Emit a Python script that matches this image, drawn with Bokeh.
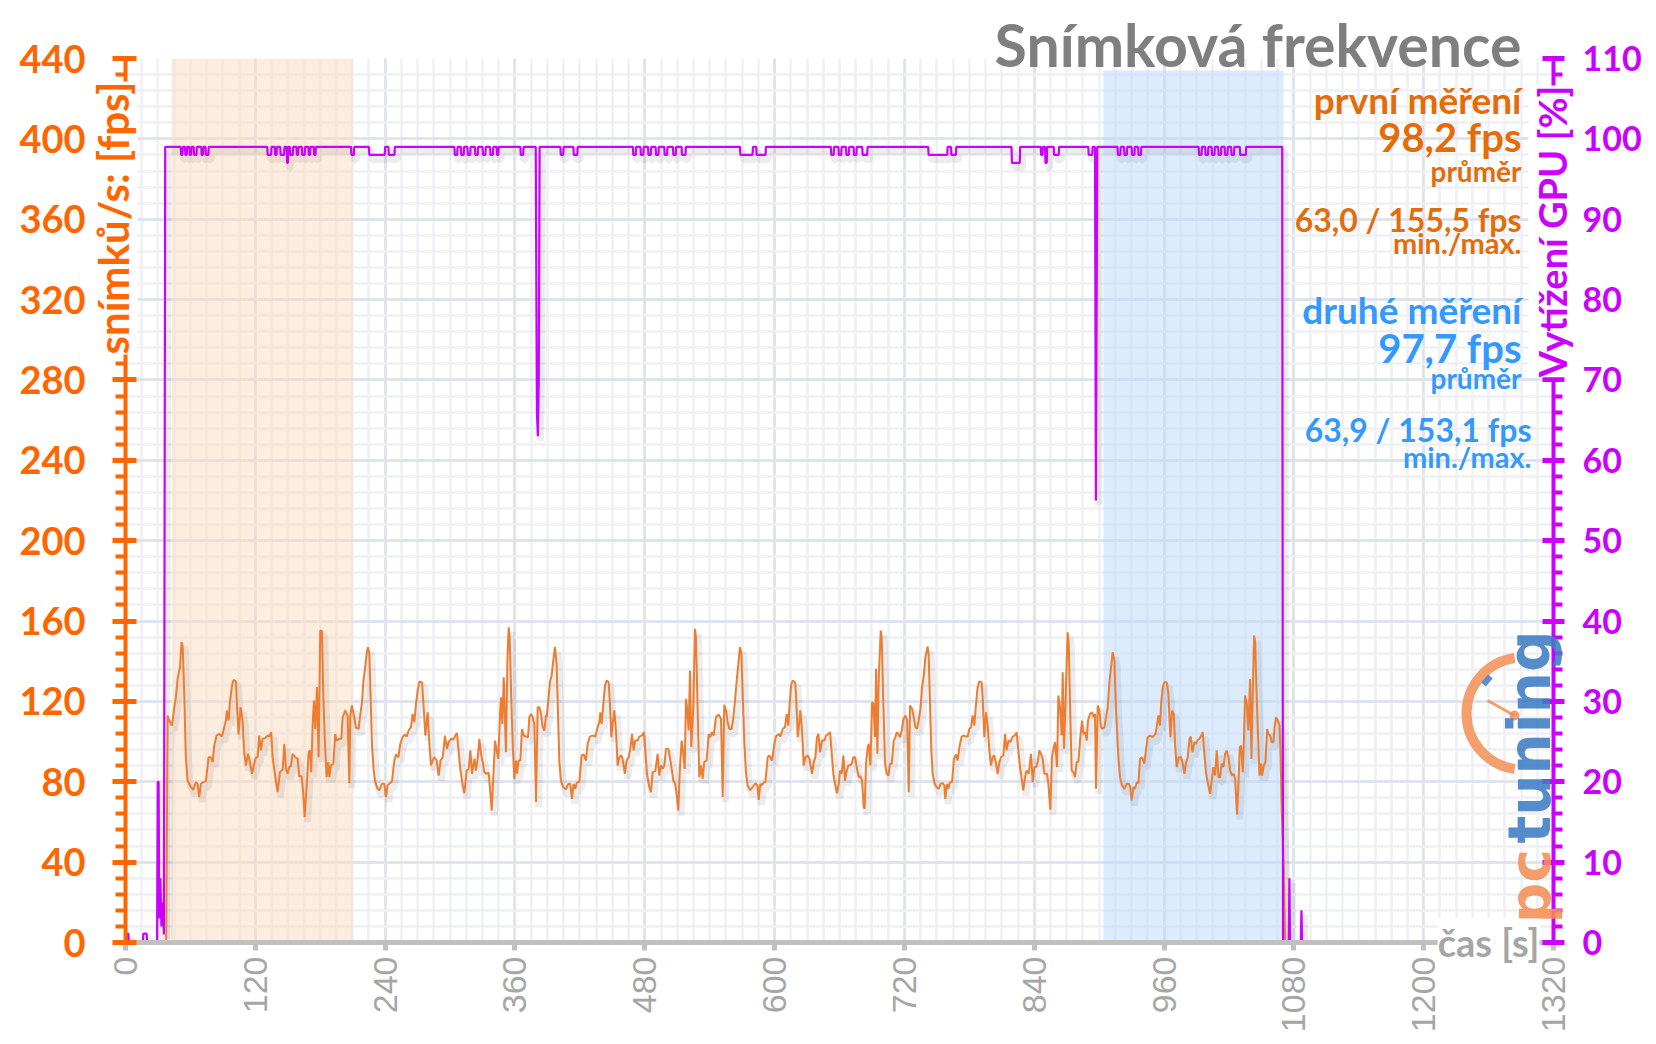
import math
import numpy as np
from bokeh.plotting import figure
from bokeh.models import LinearAxis, Range1d, SingleIntervalTicker, Label, GridBox, Column
from bokeh.embed import file_html
from bokeh.resources import INLINE

# ---------------- data ----------------
fps_seg1 = [(0, 0), (37.6, 0), (38.9, 113), (40.4, 110.5), (42.9, 108), (45.1, 117), (46.6, 122), (48.1, 131),
            (50.3, 137), (51.8, 149.5), (52.8, 147.8), (54.3, 123.7), (55.8, 92.2), (57.4, 80.6), (60.5, 77.3),
            (62.6, 76), (65.1, 79.8), (66.6, 79), (68.2, 72.4), (69.7, 79), (71.9, 79.8), (74.3, 80.3),
            (76.8, 92.2), (78.9, 92.2), (80.5, 89.8), (82.0, 98), (84.2, 103), (86.7, 103.8), (89.1, 102.5),
            (91.3, 107.2), (92.8, 110.5), (93.7, 115.5), (95.3, 110.5), (96.5, 119.6), (98.4, 127.9),
            (99.9, 130.7), (102.1, 130), (103.3, 115.5), (104.5, 103.5), (106.4, 117.1), (108.2, 110.5),
            (109.8, 93.9), (111.3, 88.1), (113.2, 93.9), (115.0, 89.8), (116.9, 84), (119.0, 89), (120.6, 92.2),
            (122.1, 92.2), (123.6, 103), (125.2, 95.6), (126.7, 101.4), (129.2, 101.7), (131.3, 103),
            (132.9, 102.5), (134.7, 104.7), (136.0, 92.2), (138.1, 84), (140.6, 74.8), (142.8, 84.8),
            (145.2, 86), (146.8, 98.9), (148.3, 86.4), (149.8, 84), (151.4, 87.3), (152.9, 87.8), (154.5, 93.9),
            (156.9, 92.2), (159.1, 91.4), (160.6, 82.8), (162.8, 82.8), (164.3, 74), (165.6, 62.4), (167.4, 77.3),
            (169.3, 94.7), (170.5, 95.6), (171.7, 84.8), (173.0, 108.8), (174.2, 120.4), (175.4, 106.3),
            (177.0, 127.1), (178.5, 92.2), (180.0, 155.3), (181.6, 155), (182.8, 123.7), (184.4, 98.9),
            (185.9, 82.3), (187.4, 89.8), (188.4, 82.3), (189.9, 88.1), (192.1, 89), (193.9, 103.8),
            (195.1, 100.5), (197.6, 101.4), (199.5, 101.4), (200.7, 112.1), (203.2, 115.5), (205.3, 113),
            (206.9, 79.3), (207.8, 113), (209.3, 118), (211.5, 112), (213.0, 107)]
fps_seg2 = [(215.5, 106.3), (217.1, 113.8), (218.6, 119.6), (219.8, 129.5), (221.7, 137.8), (222.9, 143.7),
            (224.1, 147), (225.4, 143.7), (226.3, 127.1), (227.8, 98.9), (229.4, 85.6), (230.9, 79.8),
            (233.1, 76.5), (234.6, 75.7), (237.1, 79), (239.2, 79), (240.8, 72.4), (242.3, 78.2), (243.9, 79),
            (246.3, 80.2), (248.5, 90.6), (250.0, 93.6), (252.2, 92.2), (254.0, 98.9), (256.2, 102.2),
            (258.0, 103.5), (259.9, 102.5), (261.7, 105.5), (263.9, 107.2), (265.4, 113.8), (267.0, 109.7),
            (268.5, 118.8), (270.1, 125.4), (271.6, 130), (274.1, 129.5), (275.6, 117.1), (277.2, 103),
            (279.3, 114.6), (280.9, 98.9), (282.4, 88.1), (283.9, 90.6), (285.5, 92.2), (287.6, 90.6),
            (289.5, 83.1), (291.3, 90.6), (293.2, 92.2), (295.3, 103), (297.2, 96.4), (298.7, 99.7),
            (300.9, 101.4), (303.0, 100.9), (304.9, 103), (306.4, 104.2), (308.0, 94.7), (309.5, 86.4),
            (311.7, 78.2), (313.2, 74.3), (315.4, 85.6), (317.2, 86.4), (318.8, 95.6), (320.3, 84),
            (322.5, 91.4), (324.0, 85.6), (325.5, 91.4), (327.1, 101.4), (328.6, 93.9), (330.2, 89.8),
            (331.7, 84.8), (333.2, 84), (335.7, 84.5), (337.0, 76.5), (338.5, 65.7), (340.0, 82.3),
            (341.6, 100.5), (343.1, 95.6), (344.6, 91.4), (346.2, 113.8), (347.1, 122.1), (348.3, 108.8),
            (349.6, 132), (350.8, 110.5), (351.7, 94.7), (353.0, 140.3), (354.2, 156.9), (355.1, 152),
            (356.4, 125.4), (357.9, 98.9), (359.4, 81.5), (361.0, 90.6), (361.9, 84), (363.4, 90.6),
            (365.0, 90.6), (366.5, 106.3), (368.1, 103), (370.2, 102.5), (372.1, 102.2), (373.3, 112.1),
            (374.9, 113.8), (376.4, 112.1), (377.9, 108.8), (379.5, 69.9), (381.0, 117.1), (382.6, 117.1),
            (384.1, 113.8), (385.6, 107.2), (387.2, 105.5), (388.7, 113)]
fps_seg3 = [(389.3, 112.1), (390.8, 120.4), (392.3, 129.5), (393.9, 132.9), (395.4, 140.3), (397.0, 147),
            (398.5, 138.7), (399.7, 115.5), (401.0, 90.6), (402.5, 80.6), (404.7, 77.3), (407.1, 76.2),
            (409.3, 79), (411.1, 79), (412.7, 71.5), (414.2, 79), (415.8, 76.5), (417.3, 79.8), (419.5, 79.8),
            (421.6, 93.1), (423.5, 93.6), (425.6, 90.6), (427.2, 98.9), (429.3, 102.5), (431.8, 103),
            (434.3, 102.5), (436.4, 107.2), (438.0, 109.7), (438.9, 114.6), (440.1, 108.8), (441.7, 118.8),
            (443.2, 127.9), (444.7, 130.4), (446.6, 129.5), (447.8, 118.8), (449.1, 102.2), (450.3, 108.8),
            (451.8, 115.5), (453.4, 105.5), (454.9, 88.1), (456.5, 92.2), (458.3, 93.1), (459.5, 91.4),
            (461.7, 84), (463.2, 90.6), (465.1, 92.2), (466.6, 96.4), (468.2, 103.8), (469.7, 95.6),
            (471.2, 100.5), (473.4, 100.5), (474.9, 102.5), (477.4, 103), (479.3, 104.7), (480.5, 95.6),
            (482.0, 84), (484.2, 77.3), (485.7, 74.8), (487.3, 84.8), (489.7, 85.3), (491.9, 93.9),
            (493.4, 83.1), (495.0, 88.1), (496.5, 86.4), (498.1, 88.1), (499.6, 96.4), (501.8, 96.4),
            (504.2, 89), (506.4, 80.6), (508.2, 79), (509.8, 72.4), (511.0, 65.7), (512.5, 87.3),
            (514.1, 100.5), (515.3, 95.6), (516.9, 86.4), (518.1, 121.3), (519.3, 115.5), (520.6, 105.5),
            (521.8, 135.4), (523.0, 97.2), (524.9, 117.1), (526.4, 156.1), (527.3, 152), (528.9, 115.5),
            (530.4, 82.3), (532.0, 88.1), (533.5, 81.5), (535.0, 89.8), (537.2, 90.6), (539.0, 103.8),
            (540.6, 102.2), (542.1, 104.7), (543.7, 103), (545.8, 112.1), (548.3, 113.5), (550.5, 111.3),
            (552.0, 72.4), (553.5, 118.3), (555.1, 115.5), (556.6, 109.7), (558.2, 106.3), (560.3, 106.3),
            (561.9, 112.1), (563.4, 120.4)]
fps_seg4 = [(565.0, 130.4), (566.5, 138.7), (568.0, 147), (569.3, 143.7), (570.5, 123.7), (572.1, 98.9),
            (573.6, 84), (575.1, 78.2), (577.3, 75.7), (579.8, 77.3), (582.2, 79.3), (584.1, 78.2), (585.3, 71),
            (586.8, 79), (588.4, 78.2), (589.9, 79.8), (591.5, 79.8), (593.6, 92.2), (595.2, 93.1),
            (597.6, 90.6), (599.8, 98.9), (601.3, 102.5), (603.8, 103.8), (605.3, 102.5), (607.5, 106.3),
            (609.6, 107.2), (611.2, 113.8), (612.7, 108), (613.7, 117.1), (615.2, 127.9), (616.7, 130.4),
            (618.9, 129.5), (619.8, 123.7), (621.4, 102.2), (622.6, 108), (623.8, 115.5), (625.4, 105.5),
            (626.9, 88.1), (628.5, 92.2), (630.6, 93.1), (632.2, 91.4), (634.6, 84), (636.2, 89.8),
            (637.7, 92.2), (639.2, 102.2), (640.5, 103.8), (642.0, 94.7), (643.9, 100.5), (646.0, 100.5),
            (647.6, 103), (649.7, 103.8), (651.3, 104.7), (653.1, 92.2), (654.3, 84), (655.9, 79),
            (657.7, 74.3), (659.3, 79), (660.5, 85.6), (662.0, 84), (663.6, 93.1), (665.1, 80.6),
            (666.7, 85.6), (668.2, 88.1), (669.8, 88.1), (671.3, 89), (672.8, 92.2), (674.4, 92.2),
            (675.9, 87.3), (677.8, 82.3), (679.3, 82.8), (680.8, 80.6), (682.4, 67.4), (683.3, 66.6),
            (684.5, 89), (686.1, 97.2), (687.0, 98.9), (688.6, 88.1), (690.1, 119.6), (691.3, 119.1),
            (692.9, 102.2), (693.8, 136.2), (695.0, 93.9), (696.3, 132), (698.1, 155.3), (699.0, 152),
            (700.3, 123.7), (702.1, 89), (703.7, 84), (705.2, 83.1), (706.7, 89), (708.3, 89), (710.1, 100.5),
            (711.7, 102.2), (712.9, 104.7), (714.4, 103.8), (716.0, 102.2), (717.5, 105.5), (719.1, 111.3),
            (720.9, 113), (722.5, 110.5), (724.0, 74.8), (725.2, 118), (727.1, 116.3), (728.6, 112.1),
            (730.2, 107.2), (731.7, 106.3), (733.2, 110.5), (734.8, 116.3), (736.3, 127.1), (737.9, 132.9),
            (739.4, 142)]
fps_seg5 = [(741.5, 147.3), (742.4, 143.6), (743.6, 120.4), (744.9, 95.6), (746.1, 84), (748.0, 79),
            (749.8, 77.3), (751.7, 76.5), (753.5, 79), (755.4, 79.3), (756.9, 78.2), (757.8, 71.5), (759.4, 79),
            (760.6, 76.5), (762.1, 79.8), (764.0, 79.8), (765.8, 91.4), (767.7, 93.6), (769.2, 90.6),
            (770.8, 97.2), (772.9, 102.5), (774.8, 103), (776.9, 102.5), (778.5, 102.5), (780.0, 106.3),
            (781.6, 107.2), (783.1, 113), (784.6, 108), (786.2, 118.8), (787.7, 127.1), (789.3, 130),
            (791.4, 129.5), (792.3, 122.1), (793.9, 102.2), (795.4, 114.6), (797.0, 108), (798.5, 95.6),
            (800.0, 88.1), (801.6, 92.2), (803.1, 93.1), (804.7, 89), (806.2, 84), (807.8, 89.8), (809.3, 92.2),
            (811.5, 93.1), (813.0, 103.8), (814.5, 95.6), (816.1, 100.5), (817.9, 99.7), (820.1, 102.5),
            (821.9, 103), (823.8, 104.7), (825.3, 95.6), (826.9, 87.3), (828.4, 81.5), (829.9, 75.7),
            (831.5, 82.3), (833.0, 85.6), (834.9, 84), (837.0, 93.9), (838.6, 79.8), (840.1, 87.3),
            (841.7, 87.3), (843.2, 89.8), (844.7, 95.6), (846.3, 93.9), (847.8, 91.4), (849.4, 84),
            (851.8, 84), (853.1, 79), (854.9, 66.1), (856.4, 92.2), (858.0, 97.2), (859.2, 99.7), (861.1, 87.3),
            (862.3, 122.9), (863.8, 117.1), (865.4, 103), (866.3, 134.5), (867.5, 96.4), (868.8, 117.1),
            (870.9, 154.4), (871.9, 148.6), (873.1, 118.8), (874.6, 85.6), (876.2, 84.8), (877.7, 82.3),
            (879.3, 89.8), (880.8, 89.8), (882.6, 102.2), (884.2, 110.5), (885.4, 103.8), (887.3, 104.7),
            (888.5, 100.5), (889.7, 110.5), (891.6, 113.8), (893.4, 114.6), (895.0, 112.1), (896.2, 113.8),
            (897.1, 76.5), (898.7, 118), (900.2, 115.5), (901.7, 107.2), (903.3, 106.3), (904.8, 107.2),
            (906.4, 112.1), (907.9, 117.1), (909.5, 129.5), (911.0, 137), (912.5, 144.5), (914.1, 140.3),
            (915.6, 115.5)]
fps_seg6 = [(917.8, 92.2), (919.3, 82.3), (921.2, 78.2), (923.4, 76.5), (925.5, 79), (927.4, 79), (928.6, 77.7),
            (930.1, 70.7), (931.7, 77.3), (933.2, 76.5), (934.8, 79.8), (936.3, 79.3), (937.8, 91.4),
            (939.7, 92.2), (941.8, 89), (943.4, 96.4), (944.9, 102.2), (947.1, 103), (949.5, 102.2),
            (952.0, 103.8), (953.2, 107.2), (954.8, 113), (956.3, 108), (957.3, 118.8), (958.8, 127.1),
            (960.3, 129.5), (962.5, 129.5), (964.0, 123.7), (965.9, 102.2), (967.4, 115.5), (969.0, 113.8),
            (970.2, 98.9), (971.7, 87.3), (973.6, 92.2), (975.7, 92.2), (977.3, 89), (978.8, 84), (980.4, 89.8),
            (981.9, 92.2), (983.5, 101.4), (984.7, 102.5), (986.2, 94.7), (988.1, 99.7), (989.6, 98.9),
            (991.2, 100.9), (992.7, 101.4), (994.5, 103), (995.8, 104.7), (997.3, 93.9), (998.9, 84),
            (1000.4, 79.8), (1002.6, 74), (1004.1, 80.6), (1005.6, 87.3), (1007.2, 83.1), (1008.7, 95.6),
            (1010.3, 82.3), (1011.8, 82.3), (1013.3, 89), (1014.9, 87.3), (1016.4, 93.9), (1018.0, 95.6),
            (1019.5, 92.2), (1021.1, 85.6), (1022.9, 83.1), (1024.4, 84), (1025.7, 81.5), (1027.5, 63.7),
            (1028.8, 79), (1030.0, 97.2), (1031.2, 98), (1032.8, 84.8), (1033.7, 98), (1034.9, 122.9),
            (1036.5, 118.8), (1038.0, 105.5), (1039.5, 131.2), (1040.8, 91.4), (1042.0, 123.7), (1043.2, 152.8),
            (1044.2, 149.5), (1045.1, 132), (1046.6, 107.2), (1048.2, 83.1), (1049.7, 89), (1050.6, 83.1),
            (1052.2, 88.1), (1053.7, 89.8), (1055.3, 106.3), (1056.5, 103.8), (1058.0, 103), (1059.6, 99.7),
            (1061.1, 99.7), (1062.3, 108), (1063.6, 112.1), (1065.1, 110.5), (1066.7, 108), (1067.6, 95.6),
            (1068.8, 65.7), (1070.5, 40), (1072.0, 0)]

gpu_start = [(0, 0), (1.5, 0), (2.0, 1.1), (2.6, 1.1), (3.1, 0), (16.0, 0), (16.5, 1.1), (19.5, 1.1), (20.0, 0),
             (29.2, 0), (29.8, 20), (30.6, 20), (31.2, 3), (32.2, 8), (33.2, 2), (34.5, 5), (35.5, 1), (36.7, 99)]
gpu_dips = [(51, 53, 98), (55, 57, 98), (59, 61, 98), (63, 66, 98), (70, 72, 98), (74, 77, 98),
            (131, 135, 98), (138, 140, 98), (143, 147, 98), (149, 150.5, 97), (152, 155, 98), (158, 160, 98),
            (163, 166, 98), (169, 171, 98), (174, 176, 98), (208.5, 211.5, 98), (225, 240, 98), (243, 249, 98),
            (304, 307, 98), (310, 313, 98), (316, 319, 98), (323, 326, 98), (330, 333, 98), (337, 340, 98),
            (343, 345, 98), (365, 368, 98), (402, 405, 98), (414, 418, 98), (469, 472, 98), (476, 479, 98),
            (483, 486, 98), (490, 493, 98), (498, 501, 98), (506, 509, 98), (514, 518, 98), (568, 580, 98),
            (583, 592, 98), (652, 655, 98), (659, 662, 98), (666, 669, 98), (673, 676, 98), (681, 686, 98),
            (742, 760, 98), (763, 768, 98), (819, 827, 97), (846, 848, 98), (850, 852, 97), (858, 863, 98),
            (890, 894, 98), (917, 920, 98), (923, 926, 98), (930, 933, 98), (936, 939, 98), (992, 995, 98),
            (998, 1001, 98), (1004, 1007, 98), (1010, 1013, 98), (1016, 1019, 98), (1022, 1025, 98),
            (1030, 1036, 98)]
gpu_drop_1 = [(379.2, 99), (380.3, 66), (381.2, 63), (382.0, 70), (382.8, 99)]
gpu_drop_2 = [(896.2, 99), (897.0, 55), (898.3, 99)]
gpu_end = [(1069.2, 99), (1070.0, 0), (1075.3, 0), (1075.9, 8), (1076.5, 0), (1086.4, 0), (1087.0, 4),
           (1087.6, 0), (1200.0, 0)]

region_start = [42.6, 903.9]
region_end = [210.0, 1070.5]
region_top = [440, 434]
region_color = ["#fbdcc0", "#bcdaf9"]

title_text = "Snímková frekvence"
run1 = ["první měření", "98,2 fps", "průměr", "63,0 / 155,5 fps", "min./max."]
run2 = ["druhé měření", "97,7 fps", "průměr", "63,9 / 153,1 fps", "min./max."]
left_title = "snímků/s: [fps]"
right_title = "Vytížení GPU [%]"
x_title = "čas [s]"

# ---------------- build series ----------------
fps = fps_seg1 + fps_seg2 + fps_seg3 + fps_seg4 + fps_seg5 + fps_seg6
fps_t = np.array([a for a, b in fps])
fps_v = np.array([b for a, b in fps])

body = []
for s, e, lvl in gpu_dips:
    body += [(s, 99), (s + 0.4, lvl), (e - 0.4, lvl), (e, 99)]
body += gpu_drop_1 + gpu_drop_2
body.sort(key=lambda q: q[0])
pts = list(gpu_start) + body + gpu_end
gpu_t = np.array([a for a, b in pts])
gpu_v = np.array([b for a, b in pts])

ORANGE_AX = "#ff6600"
PURPLE = "#cc00ff"
ORANGE_TXT = "#e46c0a"
BLUE_TXT = "#3399ff"
FONT = "Lato"
W, H = 1656, 1044

# ---------------- main chart ----------------
p = figure(width=W, height=H, x_range=Range1d(0, 1320), y_range=Range1d(0, 440), title=None,
           output_backend="svg", toolbar_location=None,
           min_border_left=125, min_border_right=103, min_border_top=58, min_border_bottom=102)
p.outline_line_color = None
p.extra_y_ranges = {"gpu": Range1d(0, 110)}

p.xaxis[0].ticker = SingleIntervalTicker(interval=120, num_minor_ticks=8)
p.yaxis[0].ticker = SingleIntervalTicker(interval=40, num_minor_ticks=5)
for g in (p.xgrid[0], p.ygrid[0]):
    g.grid_line_color = "#dde1e9"
    g.grid_line_width = 2.5
    g.minor_grid_line_color = "#eef0f4"
    g.minor_grid_line_width = 2.5

xa = p.xaxis[0]
xa.axis_line_color = "#c0c0c0"
xa.axis_line_width = 5
xa.major_tick_line_color = "#c0c0c0"
xa.major_tick_line_width = 5
xa.major_tick_out = 8
xa.major_tick_in = 0
xa.minor_tick_line_color = None
xa.major_label_orientation = math.pi / 2
xa.major_label_text_font = "Liberation Sans"
xa.major_label_text_font_size = "34px"
xa.major_label_text_color = "#a6a6a6"
xa.major_label_standoff = 6

ya = p.yaxis[0]
ya.axis_line_color = ORANGE_AX
ya.axis_line_width = 4
ya.major_tick_line_color = ORANGE_AX
ya.major_tick_line_width = 5
ya.major_tick_out = 13
ya.major_tick_in = 11
ya.minor_tick_line_color = ORANGE_AX
ya.minor_tick_line_width = 4
ya.minor_tick_out = 10
ya.minor_tick_in = 0
ya.major_label_text_font = FONT
ya.major_label_text_font_style = "bold"
ya.major_label_text_font_size = "38px"
ya.major_label_text_color = ORANGE_AX
ya.major_label_standoff = 27

ra = LinearAxis(y_range_name="gpu", ticker=SingleIntervalTicker(interval=10, num_minor_ticks=5))
ra.axis_line_color = PURPLE
ra.axis_line_width = 4
ra.major_tick_line_color = PURPLE
ra.major_tick_line_width = 5
ra.major_tick_out = 11
ra.major_tick_in = 11
ra.minor_tick_line_color = PURPLE
ra.minor_tick_line_width = 4
ra.minor_tick_out = 9
ra.minor_tick_in = 0
ra.major_label_text_font = FONT
ra.major_label_text_font_style = "bold"
ra.major_label_text_font_size = "34px"
ra.major_label_text_color = PURPLE
ra.major_label_standoff = 18
p.add_layout(ra, "right")

p.quad(left=region_start, right=region_end, bottom=[0, 0], top=region_top,
       fill_color=region_color, fill_alpha=0.5, line_color=None)

p.line(fps_t + 2.5, fps_v - 2.5, line_color="#000000", line_alpha=0.07, line_width=7)
p.line(gpu_t + 2.5, gpu_v - 0.6, line_color="#000000", line_alpha=0.07, line_width=7, y_range_name="gpu")
p.line(fps_t, fps_v, line_color="#ed7d31", line_width=2)
p.line(gpu_t, gpu_v, line_color=PURPLE, line_width=2.2, y_range_name="gpu")

# ---------------- text overlay (page pixel coordinates, y down) ----------------
ov = figure(width=W, height=H, x_range=Range1d(0, W), y_range=Range1d(H, 0), title=None,
            output_backend="svg", toolbar_location=None, min_border=0,
            x_axis_location=None, y_axis_location=None)
ov.background_fill_color = None
ov.border_fill_color = None
ov.outline_line_color = None
ov.xgrid.visible = False
ov.ygrid.visible = False


def put(fig, x, y, text, size, color, align="right", angle=0.0, bg=None, alpha=1.0,
        style="bold", font=FONT):
    fig.add_layout(Label(x=x, y=y, text=text, angle=angle, text_align=align, text_baseline="middle",
                         text_font=font, text_font_style=style, text_font_size=f"{size}px",
                         text_color=color, text_alpha=alpha, background_fill_color=bg))


# logo (decoration)
ov.arc(x=[1522], y=[713], radius=56, start_angle=math.radians(98), end_angle=math.radians(262),
       line_color="#f28f55", line_width=10, line_alpha=0.85)
ov.segment(x0=[1514], y0=[715], x1=[1487], y1=[700], line_color="#f28f55", line_width=3, line_alpha=0.85)
ov.scatter(x=[1514], y=[715], size=10, fill_color="#f28f55", line_color=None, fill_alpha=0.85)
ov.segment(x0=[1483], y0=[684], x1=[1490], y1=[676], line_color="#3d7cc4", line_width=6, line_alpha=0.85)
put(ov, 1529, 843, "tuning", 58, "#3d7cc4", align="left", angle=math.pi / 2, alpha=0.88, font="DejaVu Sans")
put(ov, 1529, 923, "pc", 57, "#f28f55", align="left", angle=math.pi / 2, alpha=0.88, font="DejaVu Sans")

# axis titles over the axis lines
put(ov, 112, 81, left_title, 42, ORANGE_AX, align="right", angle=math.pi / 2, bg="white")
put(ov, 1551, 85, right_title, 38, PURPLE, align="right", angle=math.pi / 2, bg="white")
put(ov, 1539, 941, x_title, 38, "#a6a6a6", align="right", bg="white")

# title and statistics
put(ov, 1521, 43.9, title_text, 59, "#7f7f7f")
sizes = [37, 40, 28, 32, 29]
ys1 = [99.0, 136.2, 170.9, 219.3, 242.1]
ys2 = [309.0, 347.8, 377.5, 429.3, 455.5]
xs2 = [1521, 1521, 1521, 1531, 1531]
for txt, yy, sz in zip(run1, ys1, sizes):
    put(ov, 1521, yy, txt, sz, ORANGE_TXT)
for txt, yy, xx, sz in zip(run2, ys2, xs2, sizes):
    put(ov, xx, yy, txt, sz, BLUE_TXT)

# the overlay sits in its own column so that the grid does not align its frame with the chart
layout = GridBox(children=[(p, 0, 0), (Column(children=[ov]), 0, 0)])
open("out.html", "w").write(file_html(layout, INLINE))
